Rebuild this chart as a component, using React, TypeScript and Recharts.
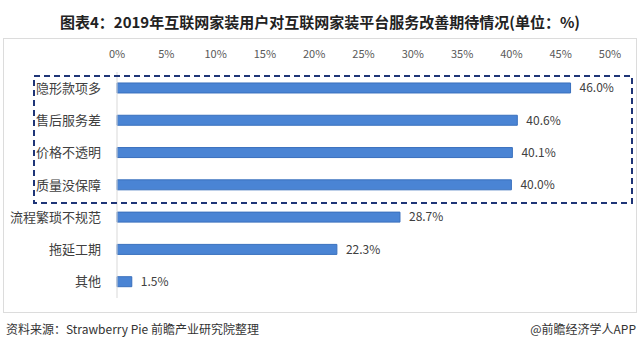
import { BarChart, Bar, XAxis, YAxis, LabelList } from 'recharts';

const categories = ['隐形款项多', '售后服务差', '价格不透明', '质量没保障', '流程繁琐不规范', '拖延工期', '其他'];
const shares = [46.0, 40.6, 40.1, 40.0, 28.7, 22.3, 1.5];
const ticks = [0, 5, 10, 15, 20, 25, 30, 35, 40, 45, 50];

const data = categories.map((name, i) => ({ name, value: shares[i] }));

const font = '"Noto Sans CJK SC", "Noto Sans", sans-serif';

const App = () => {
  return (
    <div style={{ position: 'absolute', left: 0, top: 0, width: 640, height: 349, background: '#fff', fontFamily: font }}>
      <div
        style={{
          position: 'absolute',
          top: 11,
          left: 0,
          width: 640,
          textAlign: 'center',
          fontSize: 15,
          fontWeight: 700,
          color: '#222',
        }}
      >
        图表4：2019年互联网家装用户对互联网家装平台服务改善期待情况(单位：%)
      </div>
      <svg width={640} height={349} style={{ position: 'absolute', left: 0, top: 0 }}>
        <rect x={3.5} y={38.5} width={633} height={274} fill='none' stroke='#dcdcdc' />
      </svg>
      <div style={{ position: 'absolute', left: 0, top: 0 }}>
        <BarChart
          width={640}
          height={349}
          data={data}
          layout='vertical'
          margin={{ top: 52, right: 30, left: 0, bottom: 51 }}
          barCategoryGap='34%'
        >
          <XAxis
            type='number'
            orientation='top'
            domain={[0, 50]}
            ticks={ticks}
            tickFormatter={(v) => `${v}%`}
            axisLine={false}
            tickLine={false}
            height={20}
            tickMargin={8}
            tick={{ fontSize: 11, fill: '#595959', fontFamily: font }}
          />
          <YAxis
            type='category'
            dataKey='name'
            width={117}
            axisLine={{ stroke: '#d9d9d9' }}
            tickLine={false}
            tickMargin={10}
            tick={{ fontSize: 13, fill: '#404040', fontFamily: font }}
          />
          <Bar dataKey='value' fill='#4a84d4' stroke='#3a70bd' strokeWidth={1} isAnimationActive={false}>
            <LabelList
              dataKey='value'
              position='right'
              offset={9}
              formatter={(v: number) => `${v.toFixed(1)}%`}
              style={{ fontSize: 12, fill: '#404040', fontFamily: font }}
            />
          </Bar>
        </BarChart>
      </div>
      <svg width={640} height={349} style={{ position: 'absolute', left: 0, top: 0, pointerEvents: 'none' }}>
        <rect x={34} y={76} width={598} height={127} fill='none' stroke='#1f3577' strokeWidth={2} strokeDasharray='6 4' />
      </svg>
      <div style={{ position: 'absolute', left: 6, top: 320, fontSize: 12, color: '#333' }}>
        资料来源：Strawberry Pie 前瞻产业研究院整理
      </div>
      <div style={{ position: 'absolute', right: 4, top: 320, fontSize: 12, color: '#333' }}>
        @前瞻经济学人APP
      </div>
    </div>
  );
};

export default App;
